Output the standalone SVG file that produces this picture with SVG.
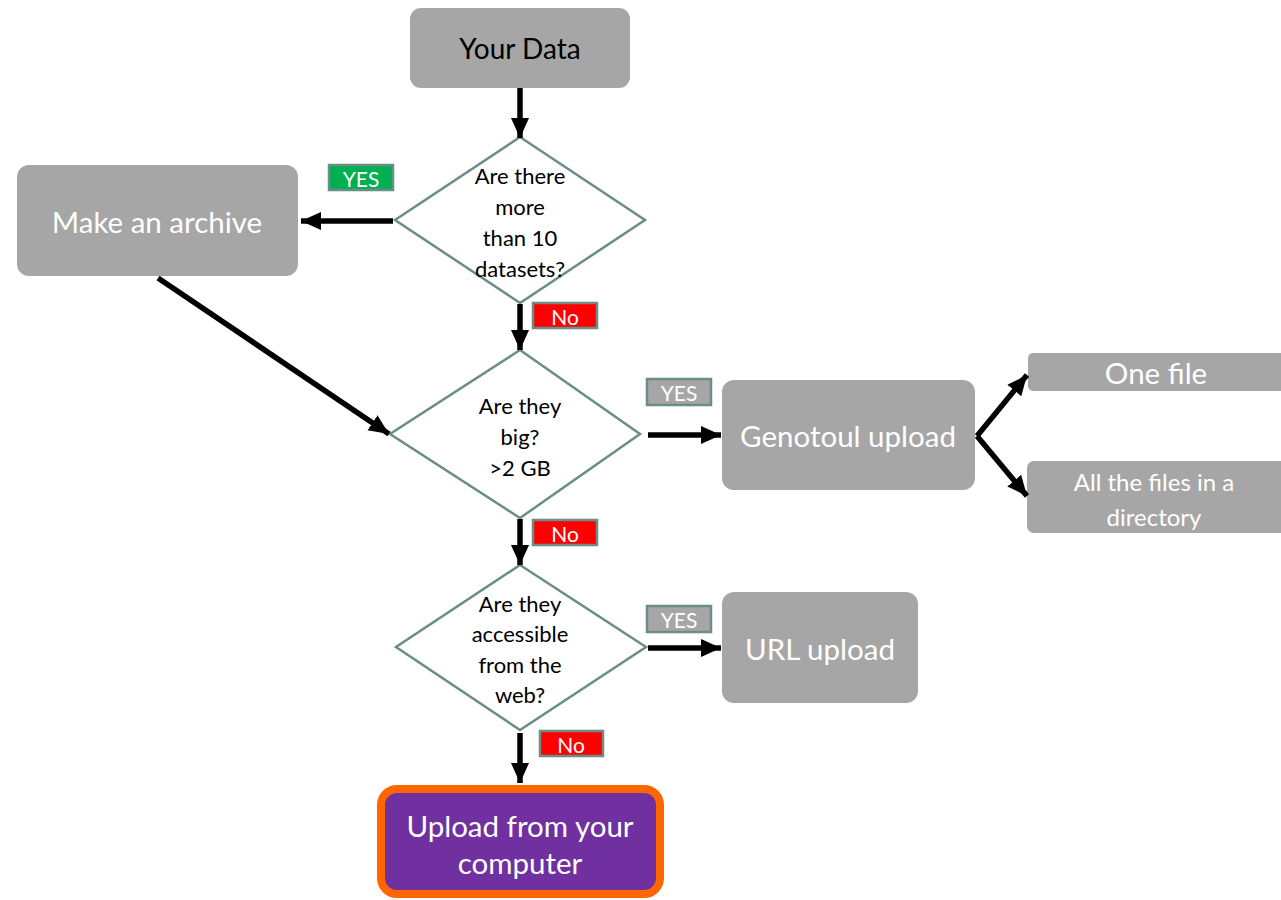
<svg xmlns="http://www.w3.org/2000/svg" width="1281" height="900" viewBox="0 0 1281 900">
<defs>
<marker id="ah" markerUnits="userSpaceOnUse" markerWidth="22" markerHeight="22" viewBox="0 0 22 22" refX="20" refY="11" orient="auto">
<path d="M0,2 L20,11 L0,20 Z" fill="#000"/>
</marker>
</defs>
<style>
text{font-family:Lato,"Open Sans","Liberation Sans",sans-serif;text-anchor:middle;dominant-baseline:central}
.box{fill:#a6a6a6}
.w{fill:#fff;font-size:29.5px}
.dia{fill:#fff;stroke:#6b8c87;stroke-width:2.5}
.dt{fill:#000;font-size:22px}
.lab{stroke:#6b8c87;stroke-width:2.5}
.lt{fill:#fff;font-size:21px}
.c{stroke:#000;stroke-width:5.5;fill:none;marker-end:url(#ah)}
</style>
<rect width="1281" height="900" fill="#fff"/>
<g id="your-data">
<rect class="box" x="410" y="8" width="220" height="80" rx="11"/>
<text x="520" y="48" style="fill:#000;font-size:28px">Your Data</text>
</g>
<g id="q1">
<polygon class="dia" points="520,137 645,220 520,303 395,220"/>
<text class="dt" x="520" y="175">Are there</text>
<text class="dt" x="520" y="206">more</text>
<text class="dt" x="520" y="237">than 10</text>
<text class="dt" x="520" y="268">datasets?</text>
</g>
<g id="make-archive">
<rect class="box" x="17" y="165" width="281" height="111" rx="12"/>
<text class="w" x="157" y="221">Make an archive</text>
</g>
<g id="q2">
<polygon class="dia" points="520,350 640,434 520,518 390,434"/>
<text class="dt" x="520" y="405">Are they</text>
<text class="dt" x="520" y="436">big?</text>
<text class="dt" x="520" y="467">&gt;2 GB</text>
</g>
<g id="genotoul">
<rect class="box" x="722" y="380" width="253" height="110" rx="12"/>
<text class="w" x="848" y="435">Genotoul upload</text>
</g>
<g id="one-file">
<rect class="box" x="1028" y="353" width="260" height="38" rx="5"/>
<text class="w" x="1156" y="372">One file</text>
</g>
<g id="all-files">
<rect class="box" x="1027" y="461" width="260" height="72" rx="7"/>
<text x="1154" y="481" style="fill:#fff;font-size:24px">All the files in a</text>
<text x="1154" y="516" style="fill:#fff;font-size:24px">directory</text>
</g>
<g id="q3">
<polygon class="dia" points="520,565 646,647 520,730 396,647"/>
<text class="dt" x="520" y="603">Are they</text>
<text class="dt" x="520" y="633">accessible</text>
<text class="dt" x="520" y="664">from the</text>
<text class="dt" x="520" y="694">web?</text>
</g>
<g id="url-upload">
<rect class="box" x="722" y="592" width="196" height="111" rx="12"/>
<text class="w" x="820" y="648">URL upload</text>
</g>
<g id="upload-computer">
<rect x="381" y="789" width="279" height="105" rx="16" fill="#7030a0" stroke="#ff6600" stroke-width="8"/>
<text class="w" x="520" y="825">Upload from your</text>
<text class="w" x="520" y="862">computer</text>
</g>
<g id="labels">
<rect class="lab" x="329" y="165" width="64" height="25" fill="#00b050"/>
<text class="lt" x="361" y="178">YES</text>
<rect class="lab" x="533" y="303" width="64" height="25" fill="#ff0000"/>
<text class="lt" x="565" y="316">No</text>
<rect class="lab" x="647" y="379" width="64" height="26" fill="#a6a6a6"/>
<text class="lt" x="679" y="392">YES</text>
<rect class="lab" x="533" y="520" width="64" height="25" fill="#ff0000"/>
<text class="lt" x="565" y="533">No</text>
<rect class="lab" x="647" y="606" width="64" height="26" fill="#a6a6a6"/>
<text class="lt" x="679" y="619">YES</text>
<rect class="lab" x="540" y="731" width="63" height="25" fill="#ff0000"/>
<text class="lt" x="571" y="744">No</text>
</g>
<g id="connectors">
<line class="c" x1="520" y1="88" x2="520" y2="138"/>
<line class="c" x1="393" y1="221" x2="301" y2="221"/>
<line class="c" x1="158" y1="278" x2="389" y2="434"/>
<line class="c" x1="520" y1="304" x2="520" y2="350"/>
<line class="c" x1="648" y1="435" x2="721" y2="435"/>
<line class="c" x1="977" y1="436" x2="1027" y2="375"/>
<line class="c" x1="977" y1="436" x2="1027" y2="496"/>
<line class="c" x1="520" y1="519" x2="520" y2="565"/>
<line class="c" x1="648" y1="648" x2="721" y2="648"/>
<line class="c" x1="520" y1="733" x2="520" y2="783"/>
</g>
</svg>
